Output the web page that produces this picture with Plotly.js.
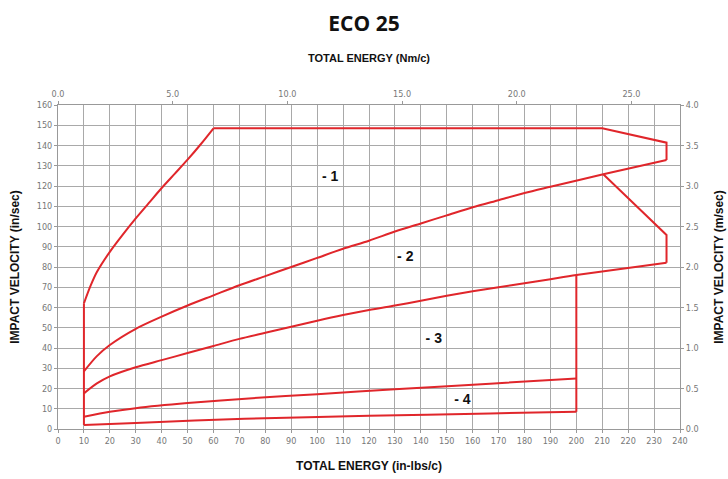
<!DOCTYPE html>
<html>
<head>
<meta charset="utf-8">
<script src="https://cdn.plot.ly/plotly-3.0.1.min.js"></script>
<style>html,body{margin:0;padding:0;background:#fff;}#chart{width:728px;height:479px;}</style>
</head>
<body>
<div id="chart"></div>
<script>
// Left edge of the envelope (straight)
const leftEdgeX = [10, 10];
const leftEdgeY = [2, 62];
// Curved upper-left boundary
const curveAX = [10, 12.5, 15, 20, 25, 30, 35, 40, 45, 50, 55, 60];
const curveAY = [62, 70.5, 77.5, 87.5, 96, 104, 111.5, 119, 126, 133, 140.5, 148.5];
// Plateau and right-hand notch (straight segments)
const topX = [60, 210, 234.8, 234.8];
const topY = [148.5, 148.5, 141.4, 132.8];
// Boundary between -1 and -2
const b12X = [10, 15, 20, 30, 40, 50, 60, 70, 80, 90, 100, 110, 120, 130, 140, 150, 160, 170, 180, 190, 210.4, 234.8];
const b12Y = [28.5, 36, 41.5, 49.5, 55.5, 61, 66, 71, 75.5, 80, 84.5, 89, 93, 97.5, 101.5, 105.5, 109.5, 113, 116.5, 119.6, 125.8, 132.8];
// Branch from -1/-2 boundary down to the -2/-3 boundary
const branchX = [210.4, 234.8, 234.8];
const branchY = [125.8, 95.8, 82.1];
// Boundary between -2 and -3
const b23X = [10, 15, 20, 30, 40, 50, 60, 70, 80, 90, 100, 110, 120, 130, 140, 150, 160, 170, 180, 190, 200, 234.8];
const b23Y = [17.6, 22.5, 26, 30.5, 34, 37.5, 41, 44.5, 47.5, 50.5, 53.5, 56.3, 58.8, 61, 63.3, 65.8, 68, 70, 72, 74, 76, 82.1];
// Upper line of -4
const b34X = [10, 20, 30, 50, 75, 100, 130, 166.7, 200];
const b34Y = [6.1, 8.5, 10.3, 12.8, 15.2, 17.2, 19.6, 22.4, 25];
// Bottom line of -4
const bottomX = [10, 30, 72, 120, 166.7, 200];
const bottomY = [2, 3, 5.1, 6.5, 7.7, 8.5];
// Right edge at 200
const rightEdgeX = [200, 200];
const rightEdgeY = [8.5, 76];

const zoneLabels = ['- 1', '- 2', '- 3', '- 4'];
const zoneX = [105, 134, 145, 156];
const zoneY = [124, 84.5, 44, 14];

const NM_PER_INLB = 0.112985;
const xTicks = [0,10,20,30,40,50,60,70,80,90,100,110,120,130,140,150,160,170,180,190,200,210,220,230,240];

const red = '#e0262b';
function seg(x, y, smooth) {
  return {type: 'scatter', mode: 'lines', x: x, y: y,
    line: {color: red, width: 2, shape: smooth ? 'spline' : 'linear', smoothing: 0.8},
    hoverinfo: 'skip', showlegend: false};
}
const traces = [
  seg(leftEdgeX, leftEdgeY, false),
  seg(curveAX, curveAY, true),
  seg(topX, topY, false),
  seg(b12X, b12Y, true),
  seg(branchX, branchY, false),
  seg(b23X, b23Y, true),
  seg(b34X, b34Y, true),
  seg(bottomX, bottomY, true),
  seg(rightEdgeX, rightEdgeY, false)
];

traces.push({
  type: 'scatter', mode: 'text', x: zoneX, y: zoneY, text: zoneLabels,
  textfont: {family: 'Liberation Sans, Arial, sans-serif', size: 14, color: '#111', weight: 'bold'},
  showlegend: false, hoverinfo: 'skip'
});

const tickFont = {family: 'Liberation Sans Narrow, DejaVu Sans Condensed, Liberation Sans, sans-serif', size: 9, color: '#777'};
const titleFont = {family: 'Liberation Sans, Arial, sans-serif', size: 12, color: '#111', weight: 'bold'};
const grid = '#a9a9a9';

const layout = {
  width: 728, height: 479,
  margin: {l: 58, r: 48, t: 105, b: 50},
  paper_bgcolor: '#fff', plot_bgcolor: '#fff',
  showlegend: false,
  title: {text: '<b>ECO 25</b>', x: 0.5, xanchor: 'center', y: 0.95, yanchor: 'middle',
          font: {family: 'Open Sans, Noto Sans, sans-serif', size: 21, color: '#111'}},
  xaxis: {
    range: [0, 240], tickvals: xTicks, ticktext: xTicks.map(String),
    showgrid: true, gridcolor: grid, gridwidth: 1,
    showline: true, linecolor: '#999', ticks: 'outside', ticklen: 3, tickcolor: '#999',
    tickfont: tickFont, zeroline: false,
    title: {text: 'TOTAL ENERGY (in-lbs/c)', font: titleFont, standoff: 16}
  },
  yaxis: {
    range: [0, 160], dtick: 10,
    showgrid: true, gridcolor: grid, gridwidth: 1,
    showline: true, linecolor: '#999', ticks: 'outside', ticklen: 3, tickcolor: '#999',
    tickfont: tickFont, zeroline: false,
    title: {text: 'IMPACT VELOCITY (in/sec)', font: titleFont, standoff: 14}
  },
  xaxis2: {
    overlaying: 'x', side: 'top', range: [0, 240 * NM_PER_INLB],
    dtick: 5, tickformat: '.1f', showgrid: false, zeroline: false,
    showline: true, linecolor: '#999', ticks: 'outside', ticklen: 3, tickcolor: '#999',
    tickfont: tickFont,
    title: {text: 'TOTAL ENERGY (Nm/c)', font: {family: 'Liberation Sans, Arial, sans-serif', size: 11, color: '#111', weight: 'bold'}, standoff: 24}
  },
  yaxis2: {
    overlaying: 'y', side: 'right', range: [0, 4],
    dtick: 0.5, tickformat: '.1f', showgrid: false, zeroline: false,
    showline: true, linecolor: '#999', ticks: 'outside', ticklen: 3, tickcolor: '#999',
    tickfont: tickFont,
    title: {text: 'IMPACT VELOCITY (m/sec)', font: titleFont, standoff: 16}
  }
};

// invisible carrier so the secondary axes exist
traces.push({type: 'scatter', mode: 'markers', x: [0], y: [0], xaxis: 'x2', yaxis: 'y2',
  marker: {opacity: 0}, hoverinfo: 'skip', showlegend: false});

Plotly.newPlot('chart', traces, layout, {staticPlot: true, displayModeBar: false});
</script>
</body>
</html>
